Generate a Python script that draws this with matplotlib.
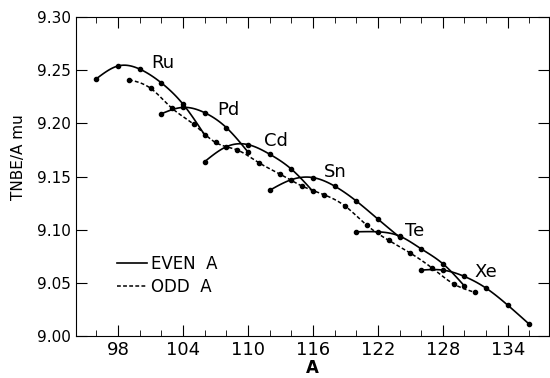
import numpy as np
import matplotlib.pyplot as plt
from matplotlib.ticker import MultipleLocator

# even-A isotopes, one curve per element
elements = ['Ru', 'Pd', 'Cd', 'Sn', 'Te', 'Xe']
even_A = {
    'Ru': [96, 98, 100, 102, 104, 106],
    'Pd': [102, 104, 106, 108, 110],
    'Cd': [106, 108, 110, 112, 114, 116],
    'Sn': [112, 114, 116, 118, 120, 122, 124],
    'Te': [120, 122, 124, 126, 128, 130],
    'Xe': [126, 128, 130, 132, 134, 136],
}
even_val = {
    'Ru': [9.242, 9.254, 9.251, 9.238, 9.218, 9.189],
    'Pd': [9.209, 9.215, 9.210, 9.196, 9.173],
    'Cd': [9.164, 9.178, 9.180, 9.171, 9.157, 9.136],
    'Sn': [9.137, 9.147, 9.149, 9.141, 9.127, 9.110, 9.093],
    'Te': [9.098, 9.098, 9.094, 9.082, 9.068, 9.047],
    'Xe': [9.062, 9.062, 9.056, 9.045, 9.029, 9.011],
}
label_pos = {
    'Ru': (102.1, 9.257), 'Pd': (108.2, 9.2125), 'Cd': (112.6, 9.183),
    'Sn': (118.1, 9.154), 'Te': (125.4, 9.099), 'Xe': (132.0, 9.060),
}

# odd-A isotopes
odd_A = [99, 101, 103, 105, 107, 109, 111, 113, 115, 117, 119, 121, 123, 125, 127, 129, 131]
odd_val = [9.241, 9.233, 9.214, 9.199, 9.182, 9.175, 9.163, 9.152, 9.141, 9.133,
           9.122, 9.104, 9.090, 9.078, 9.064, 9.049, 9.041]


def smooth(x, y, n=12):
    # natural cubic spline, only for drawing the hand-drawn looking curve
    x = np.asarray(x, float)
    y = np.asarray(y, float)
    m = len(x)
    h = np.diff(x)
    A = np.zeros((m, m))
    b = np.zeros(m)
    A[0, 0] = A[-1, -1] = 1
    for i in range(1, m - 1):
        A[i, i - 1] = h[i - 1]
        A[i, i] = 2 * (h[i - 1] + h[i])
        A[i, i + 1] = h[i]
        b[i] = 6 * ((y[i + 1] - y[i]) / h[i] - (y[i] - y[i - 1]) / h[i - 1])
    M = np.linalg.solve(A, b)
    xs, ys = [], []
    for i in range(m - 1):
        t = np.linspace(x[i], x[i + 1], n, endpoint=(i == m - 2))
        a, c = x[i + 1] - t, t - x[i]
        s = (M[i] * a**3 + M[i + 1] * c**3) / (6 * h[i]) \
            + (y[i] / h[i] - M[i] * h[i] / 6) * a \
            + (y[i + 1] / h[i] - M[i + 1] * h[i] / 6) * c
        xs.extend(t)
        ys.extend(s)
    return xs, ys


plt.rcParams['font.family'] = 'DejaVu Sans'
fig = plt.figure(figsize=(5.5, 3.78), dpi=100)
ax = fig.add_axes([0.138, 0.111, 0.860, 0.844])

for el in elements:
    ax.plot(*smooth(even_A[el], even_val[el]), '-', color='black', lw=1.2)
    ax.plot(even_A[el], even_val[el], 'o', color='black', ms=3)
    ax.text(*label_pos[el], el, fontsize=13, ha='center', va='center')

ax.plot(*smooth(odd_A, odd_val), '--', color='black', lw=1.1, dashes=(2.5, 1.5))
ax.plot(odd_A, odd_val, 'o', color='black', ms=3)

# legend
h1, = ax.plot([], [], '-', color='black', lw=1.2)
h2, = ax.plot([], [], '--', color='black', lw=1.1, dashes=(2.5, 1.5))
ax.legend([h1, h2], ['EVEN  A', 'ODD  A'], loc='lower left',
          bbox_to_anchor=(0.055, 0.08), frameon=False, fontsize=12,
          handlelength=1.8, handletextpad=0.25, labelspacing=0.3)

ax.set_xlim(94.1, 137.8)
ax.set_ylim(9.0, 9.3)
ax.set_xticks(range(98, 135, 6))
ax.xaxis.set_minor_locator(MultipleLocator(2))
ax.yaxis.set_major_locator(MultipleLocator(0.05))
ax.tick_params(direction='in', top=True, right=True, which='both')
ax.tick_params(axis='x', labelsize=13)
ax.tick_params(axis='y', labelsize=11)
ax.tick_params(which='major', length=8)
ax.tick_params(which='minor', length=4)
ax.tick_params(axis='y', which='minor', left=False, right=False)
ax.set_yticklabels([f'{v:.2f}' for v in ax.get_yticks()])

ax.set_xlabel('A', fontsize=12, fontweight='bold', labelpad=0)
ax.set_ylabel('TNBE/A mu', fontsize=11)
ax.yaxis.set_label_coords(-0.105, 0.56)

fig.savefig('out.png', dpi=100)
